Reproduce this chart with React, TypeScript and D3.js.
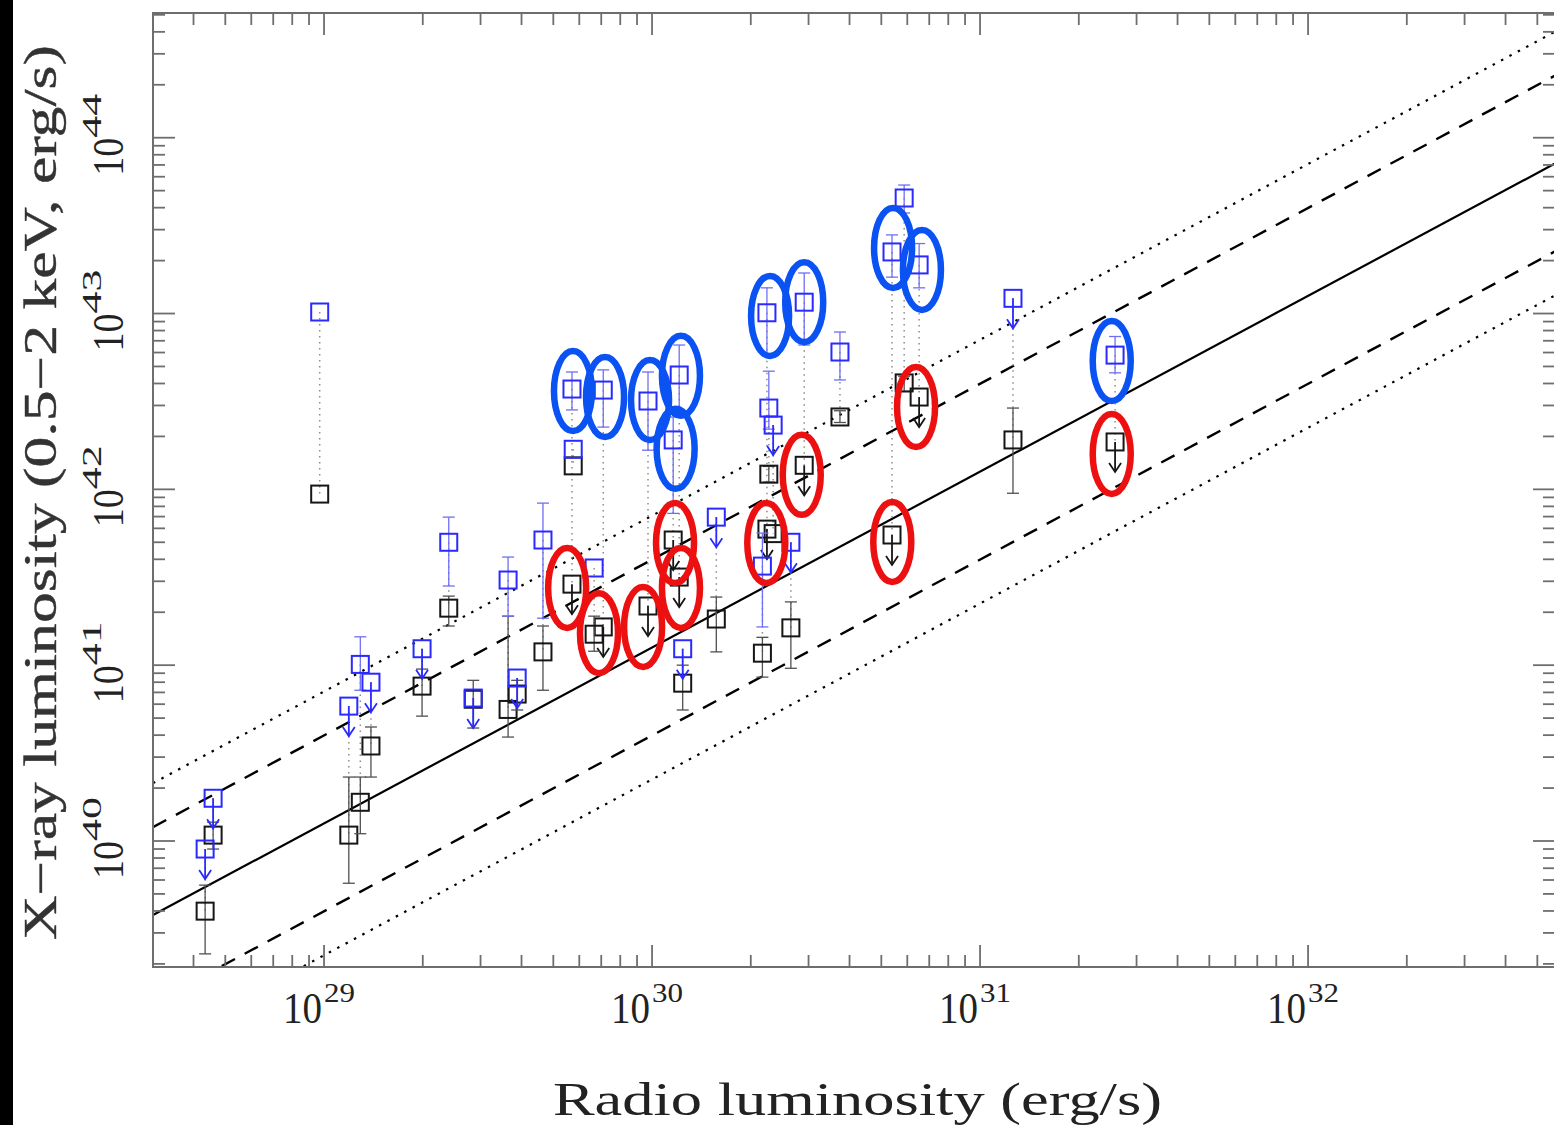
import React from 'react';
import * as d3 from 'd3';

// ---- Data ----
// Radio luminosity of each source (erg/s)
const radioL = [4.34e28, 4.59e28, 1.19e29, 1.29e29, 1.39e29, 9.7e28, 1.99e29, 2.40e29, 2.85e29, 3.64e29, 3.88e29, 4.65e29, 5.70e29, 5.75e29, 7.1e29, 6.66e29, 9.72e29, 1.21e30, 1.16e30, 1.24e30, 1.57e30, 2.24e30, 2.27e30, 2.34e30, 2.17e30, 2.65e30, 2.91e30, 3.74e30, 5.87e30, 5.39e30, 6.52e30, 1.26e31, 2.58e31];

// Black points (X-ray luminosity, erg/s)
const blackLx = [3.99e39, 1.08e40, 1.08e40, 1.66e40, 3.47e40, 9.4e41, 7.6e40, 2.11e41, 6.4e40, 5.6e40, 6.85e40, 1.19e41, 2.89e41, 1.36e42, 1.65e41, 1.50e41, 2.17e41, 3.17e41, 5.15e41, 7.9e40, 1.83e41, 5.94e41, 1.22e42, 5.6e41, 1.17e41, 1.63e41, 1.37e42, 2.58e42, 4.03e42, 5.5e41, 3.35e42, 1.91e42, 1.86e42];
const blackLo = [2.28e39, 9.0e39, 5.75e39, 1.1e40, 2.31e40, null, 5.13e40, 1.67e41, 4.39e40, 3.9e40, 5.56e40, 7.2e40, null, null, null, 1.2e41, null, null, null, 5.56e40, 1.19e41, null, 1.1e42, null, 8.55e40, 9.6e40, null, 2.4e42, 3.6e42, null, null, 9.5e41, null];
const blackHi = [5.61e39, 1.28e40, 2.31e40, 2.31e40, 4.45e40, null, 9.5e40, 2.47e41, 8.2e40, 1.9e41, 8.2e40, 1.67e41, null, null, null, 1.9e41, null, null, null, 1.0e41, 2.44e41, null, 1.35e42, null, 1.44e41, 2.29e41, null, 2.8e42, 4.4e42, null, null, 2.9e42, null];
const blackUL = [0, 0, 0, 0, 0, 0, 0, 0, 0, 0, 0, 0, 1, 0, 1, 0, 1, 1, 1, 0, 0, 1, 0, 0, 0, 0, 1, 0, 0, 1, 1, 0, 1];

// Blue points (X-ray luminosity, erg/s)
const blueLx = [9.0e39, 1.75e40, 5.85e40, 1.01e41, 8.0e40, 1.02e43, 1.24e41, 5.0e41, 6.5e40, 3.05e41, 8.45e40, 5.15e41, 3.72e42, 1.69e42, 3.67e42, 3.57e41, 3.18e42, 4.47e42, 1.91e42, 1.24e41, 6.95e41, 1.01e43, 2.90e42, 2.32e42, 3.66e41, 5.0e41, 1.16e43, 6.04e42, 4.54e43, 2.24e43, 1.89e43, 1.22e43, 5.8e42];
const blueLo = [null, null, null, 7.2e40, null, null, null, 2.82e41, null, 1.9e41, null, 1.85e41, 2.83e42, null, 2.26e42, null, 1.67e42, 2.72e42, 7.3e41, null, null, 5.8e42, 2.2e42, null, 1.65e41, null, 6.62e42, 4.19e42, 3.73e43, 1.61e43, 1.4e43, null, 4.6e42];
const blueHi = [null, null, null, 1.45e41, null, null, null, 6.95e41, null, 4.12e41, null, 8.35e41, 4.65e42, null, 4.78e42, null, 4.65e42, 6.62e42, 2.58e42, null, null, 1.40e43, 4.7e42, null, 5.64e41, null, 1.70e43, 7.85e42, 5.38e43, 2.80e43, 2.5e43, null, 7.4e42];
const blueUL = [1, 1, 1, 0, 1, 0, 1, 0, 1, 0, 1, 0, 0, 0, 0, 0, 0, 0, 0, 1, 1, 0, 0, 1, 0, 1, 0, 0, 0, 0, 0, 1, 0];

// Highlight rings (centres in data units)
const blueRingR = [5.74e29, 7.19e29, 9.86e29, 1.225e30, 1.18e30, 2.29e30, 2.91e30, 5.43e30, 6.65e30, 2.52e31];
const blueRingX = [3.62e42, 3.35e42, 3.22e42, 4.42e42, 1.70e42, 9.69e42, 1.16e43, 2.36e43, 1.77e43, 5.37e42];
const redRingR = [5.51e29, 6.89e29, 9.39e29, 1.175e30, 1.225e30, 2.23e30, 2.86e30, 5.40e30, 6.38e30, 2.52e31];
const redRingX = [2.75e41, 1.52e41, 1.65e41, 4.95e41, 2.75e41, 4.95e41, 1.21e42, 5.02e41, 2.94e42, 1.59e42];

// Axes
const xExponents = [29, 30, 31, 32];
const yExponents = [40, 41, 42, 43, 44];
const xDomain = [3.01e28, 5.66e32];
const yDomain = [1.92e39, 5.12e44];

// Relation L_X = norm * L_R and its bands (dex)
const fitNorm = 1.26e11;
const fitOffsets = [0, 0.5, -0.5, 0.75, -0.75];

export default function App() {
  const W = 1554, H = 1125;
  const X0 = 153, X1 = 1555, Y0 = 967, Y1 = 13;
  const x = d3.scaleLog().domain(xDomain).range([X0, X1]);
  const y = d3.scaleLog().domain(yDomain).range([Y0, Y1]);

  const frame = '#6e6e6e';
  const majorLen = 22, minorLen = 12;

  const makeTicks = (dom: number[]) => {
    const out: { v: number; major: boolean }[] = [];
    const lo = Math.floor(Math.log10(dom[0])), hi = Math.ceil(Math.log10(dom[1]));
    for (let e = lo; e <= hi; e++) {
      for (let m = 1; m <= 9; m++) {
        const v = m * Math.pow(10, e);
        if (v >= dom[0] && v <= dom[1]) out.push({ v, major: m === 1 });
      }
    }
    return out;
  };
  const xt = makeTicks(xDomain);
  const yt = makeTicks(yDomain);

  const line = d3.line<[number, number]>().x(d => x(d[0])).y(d => y(d[1]));
  const fitStyle = (o: number) => {
    const a = Math.abs(o);
    if (a === 0) return { dash: undefined, w: 2.2 };
    if (a === 0.5) return { dash: '15,11', w: 2.4 };
    return { dash: '2.5,7', w: 2.2 };
  };

  const SQ = 17;
  const capW = 12;
  const blueC = '#2a2aff';
  const blueErr = '#6f6ff5';
  const blackC = '#161616';
  const blackErr = '#505050';

  const drawPoint = (key: string, cx: number, v: number, lo: number | null, hi: number | null, ul: number, col: string, ecol: string) => {
    const cy = y(v);
    const els: React.ReactNode[] = [];
    if (lo != null && hi != null) {
      const yl = y(lo), yh = y(hi);
      els.push(<line key={key + 'e'} x1={cx} x2={cx} y1={yh} y2={yl} stroke={ecol} strokeWidth={1.3} />);
      els.push(<line key={key + 'c1'} x1={cx - capW / 2} x2={cx + capW / 2} y1={yh} y2={yh} stroke={ecol} strokeWidth={1.3} />);
      els.push(<line key={key + 'c2'} x1={cx - capW / 2} x2={cx + capW / 2} y1={yl} y2={yl} stroke={ecol} strokeWidth={1.3} />);
    }
    els.push(<rect key={key + 's'} x={cx - SQ / 2} y={cy - SQ / 2} width={SQ} height={SQ} fill="none" stroke={col} strokeWidth={2} />);
    if (ul) {
      const tip = cy + 30;
      els.push(<line key={key + 'a'} x1={cx} x2={cx} y1={cy} y2={tip} stroke={col} strokeWidth={1.8} />);
      els.push(<polyline key={key + 'h'} points={`${cx - 6},${tip - 9} ${cx},${tip} ${cx + 6},${tip - 9}`} fill="none" stroke={col} strokeWidth={1.8} />);
    }
    return els;
  };

  return (
    <svg width={W} height={H} style={{ position: 'absolute', left: 0, top: 0, background: '#fff' }} xmlns="http://www.w3.org/2000/svg">
      <rect x={0} y={0} width={W} height={H} fill="#fff" />
      <rect x={0} y={0} width={13} height={H} fill="#000" />
      <defs>
        <clipPath id="plotclip">
          <rect x={X0} y={Y1} width={X1 - X0} height={Y0 - Y1} />
        </clipPath>
      </defs>

      {/* relation lines */}
      <g clipPath="url(#plotclip)">
        {fitOffsets.map((o, i) => {
          const st = fitStyle(o);
          const k = fitNorm * Math.pow(10, o);
          const pts: [number, number][] = xDomain.map(r => [r, k * r]);
          return <path key={'fit' + i} d={line(pts) || ''} fill="none" stroke="#000" strokeWidth={st.w} strokeDasharray={st.dash} />;
        })}
      </g>

      {/* connectors */}
      <g>
        {radioL.map((r, i) => (
          <line key={'con' + i} x1={x(r)} x2={x(r)} y1={y(blueLx[i])} y2={y(blackLx[i])} stroke="#8c8c8c" strokeWidth={1.5} strokeDasharray="1.5,4.5" />
        ))}
      </g>

      {/* points */}
      <g>
        {radioL.map((r, i) => drawPoint('k' + i, x(r), blackLx[i], blackLo[i], blackHi[i], blackUL[i], blackC, blackErr))}
        {radioL.map((r, i) => drawPoint('b' + i, x(r), blueLx[i], blueLo[i], blueHi[i], blueUL[i], blueC, blueErr))}
      </g>

      {/* highlight rings */}
      <g fill="none" strokeWidth={6.5}>
        {blueRingR.map((r, i) => (
          <ellipse key={'br' + i} cx={x(r)} cy={y(blueRingX[i])} rx={19} ry={40} stroke="#0a52f2" />
        ))}
        {redRingR.map((r, i) => (
          <ellipse key={'rr' + i} cx={x(r)} cy={y(redRingX[i])} rx={19} ry={40} stroke="#ec1010" />
        ))}
      </g>

      {/* frame */}
      <rect x={X0} y={Y1} width={X1 - X0} height={Y0 - Y1} fill="none" stroke={frame} strokeWidth={2} />
      <g stroke={frame} strokeWidth={1.8}>
        {xt.map((t, i) => {
          const px = x(t.v);
          const L = t.major ? majorLen : minorLen;
          return (
            <g key={'xt' + i}>
              <line x1={px} x2={px} y1={Y0} y2={Y0 - L} />
              <line x1={px} x2={px} y1={Y1} y2={Y1 + L} />
            </g>
          );
        })}
        {yt.map((t, i) => {
          const py = y(t.v);
          const L = t.major ? majorLen : minorLen;
          return (
            <g key={'yt' + i}>
              <line x1={X0} x2={X0 + L} y1={py} y2={py} />
              <line x1={X1} x2={X1 - L} y1={py} y2={py} />
            </g>
          );
        })}
      </g>

      {/* tick labels */}
      <g fontFamily="'Liberation Serif', 'DejaVu Serif', serif" fill="#222">
        {xExponents.map(e => {
          const px = x(Math.pow(10, e));
          return (
            <g key={'xl' + e}>
              <text x={px - 41} y={1023} fontSize={44} textLength={39} lengthAdjust="spacingAndGlyphs">10</text>
              <text x={px} y={1002} fontSize={28} textLength={31} lengthAdjust="spacingAndGlyphs">{String(e)}</text>
            </g>
          );
        })}
        {yExponents.map(e => {
          const py = y(Math.pow(10, e));
          return (
            <g key={'yl' + e}>
              <text transform={`translate(123,${py + 38}) rotate(-90)`} fontSize={44} textLength={38} lengthAdjust="spacingAndGlyphs">10</text>
              <text transform={`translate(101,${py}) rotate(-90)`} fontSize={28} textLength={44} lengthAdjust="spacingAndGlyphs">{String(e)}</text>
            </g>
          );
        })}
      </g>

      {/* axis titles */}
      <text x={553} y={1115} fontSize={46} fontFamily="'Liberation Serif', 'DejaVu Serif', serif" fill="#222" textLength={609} lengthAdjust="spacingAndGlyphs">Radio luminosity (erg/s)</text>
      <text transform="translate(56,940) rotate(-90)" fontSize={46} fontFamily="'Liberation Serif', 'DejaVu Serif', serif" fill="#333" stroke="#333" strokeWidth={0.4} textLength={895} lengthAdjust="spacingAndGlyphs">X−ray luminosity (0.5−2 keV, erg/s)</text>
    </svg>
  );
}
